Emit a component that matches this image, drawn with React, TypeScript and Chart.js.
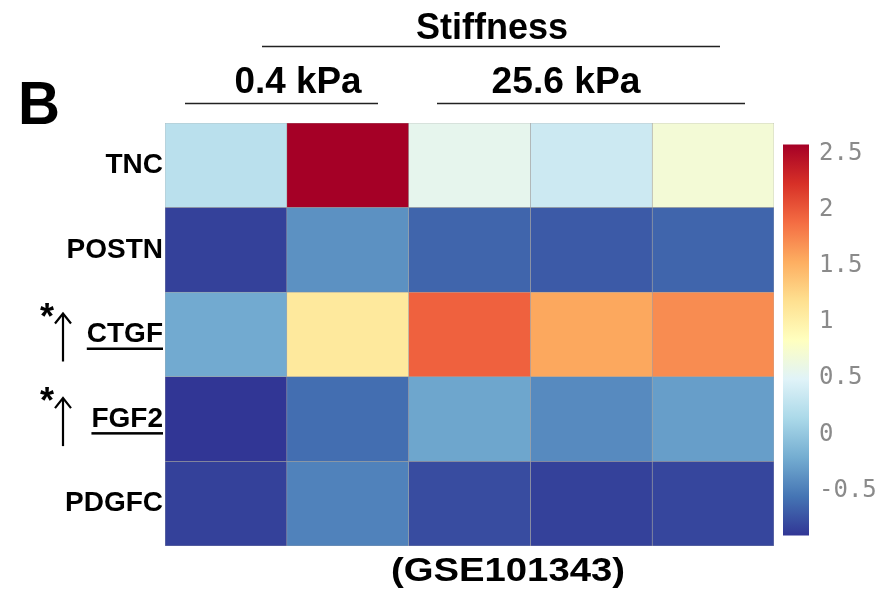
import React, { useEffect, useRef } from 'react';
import { Chart, registerables } from 'chart.js';

Chart.register(...registerables);

// ---- data ----
const genes = ['TNC', 'POSTN', 'CTGF', 'FGF2', 'PDGFC'];
const samples = ['0.4 kPa rep1', '0.4 kPa rep2', '25.6 kPa rep1', '25.6 kPa rep2', '25.6 kPa rep3'];
const tncValues = [0.24, 2.58, 0.56, 0.36, 0.7];
const postnValues = [-0.84, -0.38, -0.64, -0.7, -0.64];
const ctgfValues = [-0.22, 1.09, 1.95, 1.57, 1.72];
const fgf2Values = [-0.9, -0.59, -0.25, -0.42, -0.3];
const pdgfcValues = [-0.84, -0.47, -0.78, -0.84, -0.81];
const groupLabels = ['0.4 kPa', '25.6 kPa'];
const titleText = 'Stiffness';
const panelLetter = 'B';
const datasetId = '(GSE101343)';
const upGenes = ['CTGF', 'FGF2'];
const colorTicks = [-0.5, 0, 0.5, 1, 1.5, 2, 2.5];
const colorMin = -0.9;
const colorMax = 2.58;
const rdylbuR = ['#313695', '#4575b4', '#74add1', '#abd9e9', '#e0f3f8', '#ffffbf', '#fee090', '#fdae61', '#f46d43', '#d73027', '#a50026'];

const rows = [tncValues, postnValues, ctgfValues, fgf2Values, pdgfcValues];

const SANS = '"Liberation Sans", Arial, Helvetica, sans-serif';

function hexToRgb(h: string) {
  const n = parseInt(h.slice(1), 16);
  return [(n >> 16) & 255, (n >> 8) & 255, n & 255];
}

function colorFor(v: number) {
  let t = (v - colorMin) / (colorMax - colorMin);
  t = Math.max(0, Math.min(1, t));
  const p = t * (rdylbuR.length - 1);
  const i = Math.min(Math.floor(p), rdylbuR.length - 2);
  const f = p - i;
  const a = hexToRgb(rdylbuR[i]);
  const b = hexToRgb(rdylbuR[i + 1]);
  const c = a.map((x, k) => Math.round(x + (b[k] - x) * f));
  return `rgb(${c[0]},${c[1]},${c[2]})`;
}

function drawFit(ctx: CanvasRenderingContext2D, text: string, cx: number, baseline: number, fontPx: number, width: number) {
  ctx.save();
  ctx.font = `bold ${fontPx}px ${SANS}`;
  const w = ctx.measureText(text).width;
  const s = width / w;
  ctx.translate(cx, baseline);
  ctx.scale(s, 1);
  ctx.textAlign = 'center';
  ctx.textBaseline = 'alphabetic';
  ctx.fillStyle = '#000';
  ctx.fillText(text, 0, 0);
  ctx.restore();
}

const decorPlugin = {
  id: 'decor',
  afterDraw(chart: any) {
    const ctx: CanvasRenderingContext2D = chart.ctx;
    const yScale = chart.scales.y;
    ctx.save();
    drawFit(ctx, titleText, 492, 39, 36, 152);
    drawFit(ctx, groupLabels[0], 298, 93, 36, 127);
    drawFit(ctx, groupLabels[1], 566, 93, 36, 149);
    drawFit(ctx, panelLetter, 39, 124, 62, 42);
    drawFit(ctx, datasetId, 508, 581, 34, 234);
    ctx.strokeStyle = '#222';
    ctx.lineWidth = 1.6;
    const hline = (x0: number, x1: number, y: number) => {
      ctx.beginPath();
      ctx.moveTo(x0, y);
      ctx.lineTo(x1, y);
      ctx.stroke();
    };
    hline(262, 720, 46.5);
    hline(185, 378, 103.5);
    hline(437, 745, 103.5);

    ctx.font = `bold 28px ${SANS}`;
    upGenes.forEach((g) => {
      const idx = genes.indexOf(g);
      const y = yScale.getPixelForValue(idx);
      const right = chart.chartArea.left - 2;
      const w = ctx.measureText(g).width;
      ctx.fillStyle = '#000';
      ctx.fillRect(right - w, y + 13, w, 2.5);
      const ax = 63;
      const tip = y - 21;
      ctx.strokeStyle = '#000';
      ctx.lineWidth = 2.2;
      ctx.beginPath();
      ctx.moveTo(ax, tip + 1);
      ctx.lineTo(ax, y + 27);
      ctx.stroke();
      ctx.beginPath();
      ctx.moveTo(ax - 8, tip + 10);
      ctx.lineTo(ax, tip);
      ctx.lineTo(ax + 8, tip + 10);
      ctx.stroke();
      ctx.save();
      ctx.font = `bold 36px ${SANS}`;
      ctx.textAlign = 'center';
      ctx.textBaseline = 'alphabetic';
      ctx.fillText('*', 47, y - 6);
      ctx.restore();
    });
    ctx.restore();
  },
};

export default function App() {
  const mainRef = useRef<HTMLCanvasElement>(null);
  const barRef = useRef<HTMLCanvasElement>(null);

  useEffect(() => {
    const datasets = samples.map((s, c) => ({
      label: s,
      data: genes.map(() => [c, c + 1]),
      backgroundColor: genes.map((_, r) => colorFor(rows[r][c])),
      borderColor: 'rgba(150,150,150,0.8)',
      borderWidth: 0.6,
      borderSkipped: false,
      grouped: false,
      barPercentage: 1,
      categoryPercentage: 1,
    }));

    const main = new Chart(mainRef.current!, {
      type: 'bar',
      data: { labels: genes, datasets: datasets as any },
      options: {
        indexAxis: 'y',
        responsive: false,
        animation: false,
        events: [],
        layout: { padding: { left: 0, top: 123, right: 112, bottom: 48 } },
        plugins: { legend: { display: false }, tooltip: { enabled: false } },
        scales: {
          x: { type: 'linear', min: 0, max: samples.length, display: false },
          y: {
            type: 'category',
            grid: { display: false, drawTicks: false },
            border: { display: false },
            ticks: {
              color: '#000',
              padding: 2,
              font: { family: SANS, size: 28, weight: 'bold' },
            },
            afterFit: (s: any) => {
              s.width = 165;
            },
          },
        },
      } as any,
      plugins: [decorPlugin],
    });

    const bar = new Chart(barRef.current!, {
      type: 'bar',
      data: {
        labels: ['scale'],
        datasets: [
          {
            data: [[colorMin, colorMax]] as any,
            barPercentage: 1,
            categoryPercentage: 1,
            borderWidth: 0,
            backgroundColor: (context: any) => {
              const ch = context.chart;
              const ys = ch.scales.y;
              if (!ch.chartArea || !ys) return rdylbuR[5];
              const g = ch.ctx.createLinearGradient(0, ys.getPixelForValue(colorMin), 0, ys.getPixelForValue(colorMax));
              rdylbuR.forEach((col, i) => g.addColorStop(i / (rdylbuR.length - 1), col));
              return g;
            },
          },
        ],
      },
      options: {
        responsive: false,
        animation: false,
        events: [],
        layout: { padding: { left: 23, top: 23, bottom: 23, right: 0 } },
        plugins: { legend: { display: false }, tooltip: { enabled: false } },
        scales: {
          x: { display: false },
          y: {
            type: 'linear',
            position: 'right',
            min: colorMin,
            max: colorMax,
            grid: { display: false, drawTicks: false },
            border: { display: false },
            afterBuildTicks: (s: any) => {
              s.ticks = colorTicks.map((v) => ({ value: v }));
            },
            afterFit: (s: any) => {
              s.width = 77;
            },
            ticks: {
              color: '#8a8a8a',
              padding: 10,
              font: { family: '"DejaVu Sans Mono", monospace', size: 24 },
              callback: (v: any) => String(v),
            },
          },
        },
      } as any,
    });

    return () => {
      main.destroy();
      bar.destroy();
    };
  }, []);

  return (
    <div style={{ position: 'fixed', left: 0, top: 0, width: 886, height: 594, background: '#fff' }}>
      <canvas ref={mainRef} width={886} height={594} style={{ position: 'absolute', left: 0, top: 0 }} />
      <canvas ref={barRef} width={126} height={440} style={{ position: 'absolute', left: 760, top: 120 }} />
    </div>
  );
}
